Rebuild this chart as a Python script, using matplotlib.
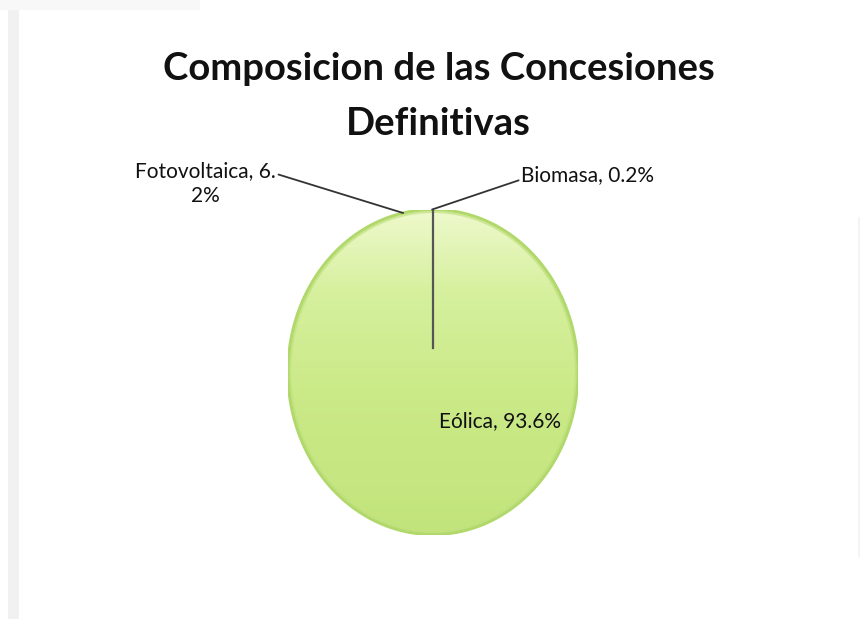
import matplotlib.pyplot as plt
import numpy as np
from matplotlib.patches import Rectangle, Circle
from matplotlib.colors import LinearSegmentedColormap

labels = ['Eólica', 'Fotovoltaica', 'Biomasa']
values = [93.6, 6.2, 0.2]
label_texts = ['Eólica, 93.6%', 'Fotovoltaica, 6.\n2%', 'Biomasa, 0.2%']

plt.rcParams['font.family'] = ['Lato', 'DejaVu Sans']

fig = plt.figure(figsize=(8.63, 6.19), dpi=100, facecolor='white')
# faint slide frame
fig.patches.append(Rectangle((8 / 863, 0), 11 / 863, 1, transform=fig.transFigure,
                             facecolor='#f1f1f1', edgecolor='none', zorder=-10))
fig.patches.append(Rectangle((0, 609 / 619), 200 / 863, 10 / 619, transform=fig.transFigure,
                             facecolor='#f8f8f8', edgecolor='none', zorder=-10))
fig.patches.append(Rectangle((858 / 863, 0.1), 2 / 863, 0.55, transform=fig.transFigure,
                             facecolor='#f4f4f4', edgecolor='none', zorder=-10))

fig.text(0.508, 0.888, 'Composicion de las Concesiones', ha='center', va='center',
         fontsize=27.5, fontweight='bold', color='#111111')
fig.text(0.508, 0.800, 'Definitivas', ha='center', va='center',
         fontsize=27.5, fontweight='bold', color='#111111')

# pie area (ellipse), in figure fractions
ax = fig.add_axes([0.3337, 0.1365, 0.336, 0.525])
ax.axis('off')

start = 90
wedges, _ = ax.pie(values, startangle=start, counterclock=False, radius=0.98,
                   colors=['#cdeb8c'] * 3,
                   wedgeprops=dict(edgecolor='none', linewidth=0, antialiased=False))
ax.set_aspect('auto')
ax.set_xlim(-1, 1)
ax.set_ylim(-1, 1)

# vertical gradient fill over the whole pie
r = 1.0
cmap = LinearSegmentedColormap.from_list(
    'g', [(0, '#c2e47c'), (0.45, '#cbea88'), (0.75, '#d6f09e'), (1, '#eef9cc')])
grad = np.linspace(0, 1, 256).reshape(-1, 1)
im = ax.imshow(grad, extent=[-r, r, -r, r], origin='lower', cmap=cmap,
               aspect='auto', zorder=2)
clip = Circle((0, 0), r, transform=ax.transData)
im.set_clip_path(clip)

t = np.linspace(0, 2 * np.pi, 400)
ax.plot(r * np.cos(t), r * np.sin(t), color='#b0d86a', lw=2.2, zorder=3)
ax.plot(0.985 * r * np.cos(t), 0.985 * r * np.sin(t), color='#c0e07e', lw=1.5,
        zorder=3, alpha=0.7)

# boundary line of the first slice
a = np.deg2rad(start)
ax.plot([0, r * np.cos(a)], [0.15, r * np.sin(a)], color='#555555', lw=1.6, zorder=4)

# labels
ang = start
mids = []
for v in values:
    mids.append(ang - v * 3.6 / 2)
    ang -= v * 3.6

ax.text(0.46, -0.30, label_texts[0], ha='center', va='center', fontsize=15,
        color='#111111', zorder=5)

m1 = np.deg2rad(mids[1])
ax.annotate(label_texts[1], xy=(r * np.cos(m1), r * np.sin(m1)), xytext=(-1.57, 1.16),
            ha='center', va='center', fontsize=15, color='#111111',
            annotation_clip=False, linespacing=1.3,
            arrowprops=dict(arrowstyle='-', color='#333333', lw=1.3,
                            shrinkA=0, shrinkB=0, relpos=(1.0, 0.72)))

m2 = np.deg2rad(mids[2])
ax.annotate(label_texts[2], xy=(r * np.cos(m2), r * np.sin(m2)), xytext=(0.61, 1.21),
            ha='left', va='center', fontsize=15, color='#111111',
            annotation_clip=False,
            arrowprops=dict(arrowstyle='-', color='#333333', lw=1.3,
                            shrinkA=0, shrinkB=0, relpos=(0.0, 0.3)))

fig.savefig('out.png', dpi=100, facecolor=fig.get_facecolor())
